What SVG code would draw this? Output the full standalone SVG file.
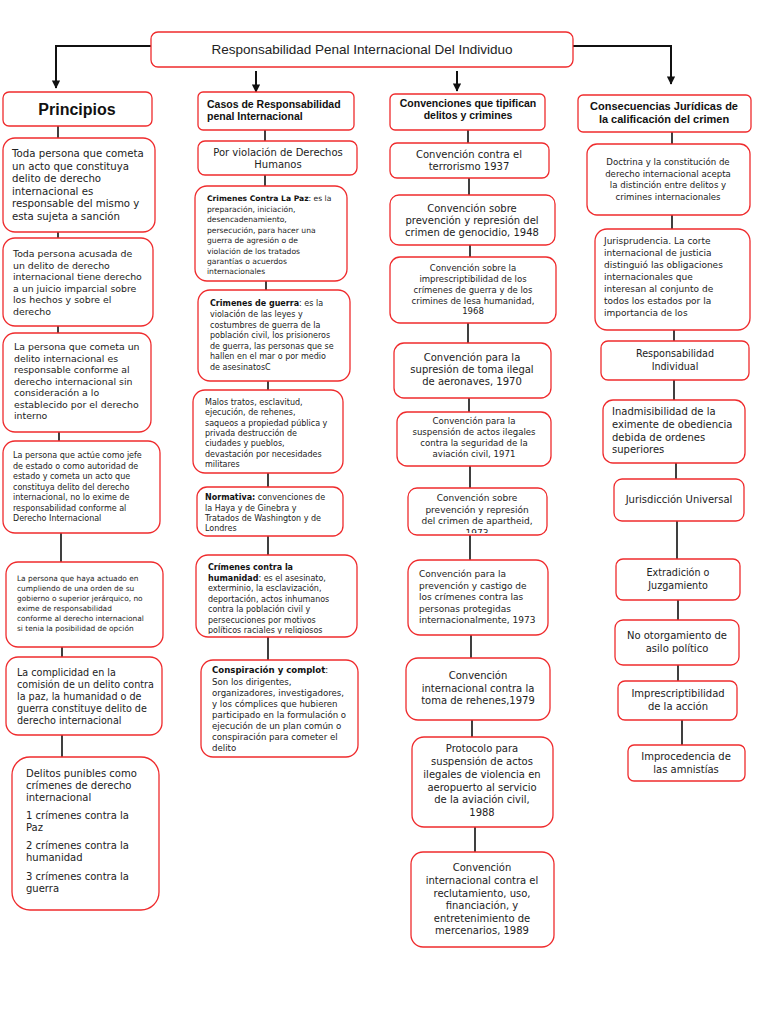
<svg xmlns="http://www.w3.org/2000/svg" width="768" height="1024" viewBox="0 0 768 1024">
<style>
.b{fill:#fff;stroke:#ef2b2d;stroke-width:1.3}
.c{stroke:#111;stroke-width:1.6;fill:none}
.ca{stroke:#111;stroke-width:2;fill:none}
text{font-family:"DejaVu Sans","Liberation Sans",sans-serif;fill:#222}
.m{text-anchor:middle}
.h{font-family:"Liberation Sans","Open Sans",sans-serif;font-weight:bold;fill:#111}
.bb{font-weight:bold;fill:#111}
</style>
<defs>
<marker id="ar" viewBox="0 0 10 10" refX="9" refY="5" markerWidth="4.2" markerHeight="4.2" orient="auto"><path d="M0,0 L10,5 L0,10 z" fill="#111"/></marker>
<clipPath id="k1"><rect x="196" y="555" width="161" height="79"/></clipPath>
<clipPath id="k2"><rect x="408" y="488" width="139" height="45"/></clipPath>
</defs>

<g id="connectors">
<path class="ca" d="M151,46 H56 V88" marker-end="url(#ar)"/>
<path class="ca" d="M573,46 H671 V84" marker-end="url(#ar)"/>
<path class="ca" d="M256,71 V92" marker-end="url(#ar)"/>
<path class="ca" d="M457,71 V91" marker-end="url(#ar)"/>
<path class="c" d="M58,126 V138 M58,232 V238 M58,326 V333 M59,432 V441 M61,533 V562 M62,647 V657 M62,735 V757"/>
<path class="c" d="M265,130 V141 M265,175 V186 M266,281 V290 M268,381 V390 M268,473 V487 M268,536 V555 M268,637 V660"/>
<path class="c" d="M468,130 V143 M469,178 V195 M470,245 V257 M468,323 V343 M469,398 V412 M470,466 V488 M470,535 V560 M471,635 V658 M472,720 V737 M475,827 V852"/>
<path class="c" d="M672,132 V144 M672,215 V229 M674,330 V341 M674,380 V400 M676,463 V479 M677,521 V559 M678,600 V620 M678,665 V681 M682,720 V745"/>
</g>

<g id="title"><rect class="b" x="151" y="32" width="422" height="35" rx="7"/>
<text class="m" x="362" y="54" style="font-family:'Liberation Sans',sans-serif;font-size:13.5px">Responsabilidad Penal Internacional Del Individuo</text></g>

<!-- Column 1 -->
<g id="principios"><rect class="b" x="3" y="92" width="149" height="34" rx="6"/>
<text class="m h" x="77" y="115" style="font-size:16px">Principios</text></g>

<g id="p1"><rect class="b" x="3" y="138" width="152" height="94" rx="12"/>
<text style="font-size:10.2px"><tspan x="12" y="157">Toda persona que cometa</tspan><tspan x="12" y="169.5">un acto que constituya</tspan><tspan x="12" y="182">delito de derecho</tspan><tspan x="12" y="194.5">internacional es</tspan><tspan x="12" y="207">responsable del mismo y</tspan><tspan x="12" y="219.5">esta sujeta a sanción</tspan></text></g>

<g id="p2"><rect class="b" x="3" y="238" width="150" height="88" rx="12"/>
<text style="font-size:9.4px"><tspan x="13" y="257">Toda persona acusada de</tspan><tspan x="13" y="268.5">un delito de derecho</tspan><tspan x="13" y="280">internacional tiene derecho</tspan><tspan x="13" y="291.5">a un juicio imparcial sobre</tspan><tspan x="13" y="303">los hechos y sobre el</tspan><tspan x="13" y="314.5">derecho</tspan></text></g>

<g id="p3"><rect class="b" x="3" y="333" width="148" height="99" rx="12"/>
<text style="font-size:9.4px"><tspan x="14" y="350">La persona que cometa un</tspan><tspan x="14" y="361.5">delito internacional es</tspan><tspan x="14" y="373">responsable conforme al</tspan><tspan x="14" y="384.5">derecho internacional sin</tspan><tspan x="14" y="396">consideración a lo</tspan><tspan x="14" y="407.5">establecido por el derecho</tspan><tspan x="14" y="419">interno</tspan></text></g>

<g id="p4"><rect class="b" x="3" y="441" width="157" height="92" rx="12"/>
<text style="font-size:8px"><tspan x="13" y="458">La persona que actúe como jefe</tspan><tspan x="13" y="468.5">de estado o como autoridad de</tspan><tspan x="13" y="479">estado y cometa un acto que</tspan><tspan x="13" y="489.5">constituya delito del derecho</tspan><tspan x="13" y="500">internacional, no lo exime de</tspan><tspan x="13" y="510.5">responsabilidad conforme al</tspan><tspan x="13" y="521">Derecho Internacional</tspan></text></g>

<g id="p5"><rect class="b" x="6" y="562" width="157" height="85" rx="12"/>
<text style="font-size:7.4px"><tspan x="17" y="581">La persona que haya actuado en</tspan><tspan x="17" y="591">cumpliendo de una orden de su</tspan><tspan x="17" y="601">gobierno o superior jerárquico, no</tspan><tspan x="17" y="611">exime de responsabilidad</tspan><tspan x="17" y="621">conforme al derecho internacional</tspan><tspan x="17" y="631">si tenia la posibilidad de opción</tspan></text></g>

<g id="p6"><rect class="b" x="6" y="657" width="156" height="78" rx="12"/>
<text style="font-size:9.6px"><tspan x="17" y="676">La complicidad en la</tspan><tspan x="17" y="688">comisión de un delito contra</tspan><tspan x="17" y="700">la paz, la humanidad o de</tspan><tspan x="17" y="712">guerra constituye delito de</tspan><tspan x="17" y="724">derecho internacional</tspan></text></g>

<g id="p7"><rect class="b" x="12" y="757" width="147" height="153" rx="18"/>
<text style="font-size:10px"><tspan x="26" y="777">Delitos punibles como</tspan><tspan x="26" y="789">crímenes de derecho</tspan><tspan x="26" y="801">internacional</tspan><tspan x="26" y="819">1 crímenes contra la</tspan><tspan x="26" y="831">Paz</tspan><tspan x="26" y="849">2 crímenes contra la</tspan><tspan x="26" y="861">humanidad</tspan><tspan x="26" y="880">3 crímenes contra la</tspan><tspan x="26" y="892">guerra</tspan></text></g>

<!-- Column 2 -->
<g id="casos"><rect class="b" x="198" y="92" width="156" height="38" rx="5"/>
<text class="h" style="font-size:10.5px"><tspan x="207" y="108">Casos de Responsabilidad</tspan><tspan x="207" y="120">penal Internacional</tspan></text></g>

<g id="c1"><rect class="b" x="198" y="141" width="159" height="34" rx="7"/>
<text class="m" style="font-size:10px"><tspan x="278" y="156">Por violación de Derechos</tspan><tspan x="278" y="168">Humanos</tspan></text></g>

<g id="c2"><rect class="b" x="195" y="186" width="152" height="95" rx="12"/>
<text style="font-size:7.6px"><tspan x="207" y="201"><tspan class="bb">Crimenes Contra La Paz</tspan>: es la</tspan><tspan x="207" y="211.5">preparación, iniciación,</tspan><tspan x="207" y="222">desencadenamiento,</tspan><tspan x="207" y="232.5">persecución, para hacer una</tspan><tspan x="207" y="243">guerra de agresión o de</tspan><tspan x="207" y="253.5">violación de los tratados</tspan><tspan x="207" y="264">garantías o acuerdos</tspan><tspan x="207" y="274">internacionales</tspan></text></g>

<g id="c3"><rect class="b" x="198" y="290" width="152" height="91" rx="12"/>
<text style="font-size:8px"><tspan x="210" y="306"><tspan class="bb">Crimenes de guerra</tspan>: es la</tspan><tspan x="210" y="317">violación de las leyes y</tspan><tspan x="210" y="327.5">costumbres de guerra de la</tspan><tspan x="210" y="338">población civil, los prisioneros</tspan><tspan x="210" y="348.5">de guerra, las personas que se</tspan><tspan x="210" y="359">hallen en el mar o por medio</tspan><tspan x="210" y="369.5">de asesinatosC</tspan></text></g>

<g id="c4"><rect class="b" x="193" y="390" width="150" height="83" rx="12"/>
<text style="font-size:8px"><tspan x="205" y="405"> Malos tratos, esclavitud,</tspan><tspan x="205" y="415.3">ejecución, de rehenes,</tspan><tspan x="205" y="425.6">saqueos a propiedad pública y</tspan><tspan x="205" y="435.9">privada destrucción de</tspan><tspan x="205" y="446.2">ciudades y pueblos,</tspan><tspan x="205" y="456.5">devastación por necesidades</tspan><tspan x="205" y="466.8">militares</tspan></text></g>

<g id="c5"><rect class="b" x="197" y="487" width="146" height="49" rx="10"/>
<text style="font-size:8px"><tspan x="205" y="500"><tspan class="bb">Normativa:</tspan> convenciones de</tspan><tspan x="205" y="510.5">la Haya y de Ginebra y</tspan><tspan x="205" y="521">Tratados de Washington y de</tspan><tspan x="205" y="531">Londres</tspan></text></g>

<g id="c6"><rect class="b" x="196" y="555" width="161" height="82" rx="12"/>
<text clip-path="url(#k1)" style="font-size:8px"><tspan x="208" y="570" class="bb">Crímenes contra la</tspan><tspan x="208" y="580.5"><tspan class="bb">humanidad</tspan>: es el asesinato,</tspan><tspan x="208" y="591">exterminio, la esclavización,</tspan><tspan x="208" y="601.5">deportación, actos inhumanos</tspan><tspan x="208" y="612">contra la población civil y</tspan><tspan x="208" y="622.5">persecuciones por motivos</tspan><tspan x="208" y="633">políticos raciales y religiosos</tspan></text></g>

<g id="c7"><rect class="b" x="201" y="660" width="157" height="97" rx="12"/>
<text style="font-size:8.6px"><tspan x="212" y="673"><tspan class="bb">Conspiración y complot</tspan>:</tspan><tspan x="212" y="684.5">Son los dirigentes,</tspan><tspan x="212" y="696">organizadores, investigadores,</tspan><tspan x="212" y="707">y los cómplices que hubieren</tspan><tspan x="212" y="718">participado en la formulación o</tspan><tspan x="212" y="729">ejecución de un plan común o</tspan><tspan x="212" y="740">conspiración para cometer el</tspan><tspan x="212" y="751">delito</tspan></text></g>

<!-- Column 3 -->
<g id="conv"><rect class="b" x="390" y="94" width="155" height="36" rx="5"/>
<text class="m h" style="font-size:10.5px"><tspan x="468" y="107">Convenciones que tipifican</tspan><tspan x="468" y="119">delitos y crimines</tspan></text></g>

<g id="v1"><rect class="b" x="390" y="143" width="159" height="35" rx="7"/>
<text class="m" style="font-size:10px"><tspan x="469" y="158">Convención contra el</tspan><tspan x="469" y="170">terrorismo 1937</tspan></text></g>

<g id="v2"><rect class="b" x="390" y="195" width="165" height="50" rx="9"/>
<text class="m" style="font-size:10px"><tspan x="472" y="212">Convención sobre</tspan><tspan x="472" y="224">prevención y represión del</tspan><tspan x="472" y="236">crimen de genocidio, 1948</tspan></text></g>

<g id="v3"><rect class="b" x="390" y="257" width="166" height="66" rx="10"/>
<text class="m" style="font-size:8.5px"><tspan x="473" y="271">Convención sobre la</tspan><tspan x="473" y="282">imprescriptibilidad de los</tspan><tspan x="473" y="293">crímenes de guerra y de los</tspan><tspan x="473" y="303.5">crimines de lesa humanidad,</tspan><tspan x="473" y="314">1968</tspan></text></g>

<g id="v4"><rect class="b" x="394" y="343" width="157" height="55" rx="10"/>
<text class="m" style="font-size:10px"><tspan x="472" y="361">Convención para la</tspan><tspan x="472" y="373">supresión de toma ilegal</tspan><tspan x="472" y="385">de aeronaves, 1970</tspan></text></g>

<g id="v5"><rect class="b" x="397" y="412" width="154" height="54" rx="10"/>
<text class="m" style="font-size:8.6px"><tspan x="474" y="424">Convención para la</tspan><tspan x="474" y="435">suspensión de actos ilegales</tspan><tspan x="474" y="446">contra la seguridad de la</tspan><tspan x="474" y="457">aviación civil, 1971</tspan></text></g>

<g id="v6"><rect class="b" x="408" y="488" width="139" height="47" rx="9"/>
<text class="m" clip-path="url(#k2)" style="font-size:9px"><tspan x="477" y="501">Convención sobre</tspan><tspan x="477" y="512.5">prevención y represión</tspan><tspan x="477" y="524">del crimen de apartheid,</tspan><tspan x="477" y="535.5">1973</tspan></text></g>

<g id="v7"><rect class="b" x="408" y="560" width="140" height="75" rx="12"/>
<text style="font-size:9px"><tspan x="419" y="577">Convención para la</tspan><tspan x="419" y="588.5">prevención y castigo de</tspan><tspan x="419" y="600">los crímenes contra las</tspan><tspan x="419" y="611.5">personas protegidas</tspan><tspan x="419" y="623">internacionalmente, 1973</tspan></text></g>

<g id="v8"><rect class="b" x="406" y="658" width="144" height="62" rx="12"/>
<text class="m" style="font-size:10px"><tspan x="478" y="679">Convención</tspan><tspan x="478" y="691.5">internacional contra la</tspan><tspan x="478" y="704">toma de rehenes,1979</tspan></text></g>

<g id="v9"><rect class="b" x="412" y="737" width="141" height="90" rx="12"/>
<text class="m" style="font-size:10px"><tspan x="482" y="752">Protocolo para</tspan><tspan x="482" y="765">suspensión de actos</tspan><tspan x="482" y="778">ilegales de violencia en</tspan><tspan x="482" y="790.5">aeropuerto al servicio</tspan><tspan x="482" y="803">de la aviación civil,</tspan><tspan x="482" y="815.5">1988</tspan></text></g>

<g id="v10"><rect class="b" x="411" y="852" width="143" height="95" rx="12"/>
<text class="m" style="font-size:10px"><tspan x="482" y="871">Convención</tspan><tspan x="482" y="884">internacional contra el</tspan><tspan x="482" y="896.5">reclutamiento, uso,</tspan><tspan x="482" y="909">financiación, y</tspan><tspan x="482" y="921.5">entretenimiento de</tspan><tspan x="482" y="934">mercenarios, 1989</tspan></text></g>

<!-- Column 4 -->
<g id="conse"><rect class="b" x="578" y="95" width="173" height="37" rx="5"/>
<text class="m h" style="font-size:11px"><tspan x="664" y="110">Consecuencias Jurídicas de</tspan><tspan x="664" y="123">la calificación del crimen</tspan></text></g>

<g id="k1b"><rect class="b" x="587" y="144" width="163" height="71" rx="10"/>
<text class="m" style="font-size:8.6px"><tspan x="668" y="165">Doctrina y la constitución de</tspan><tspan x="668" y="176.5">derecho internacional acepta</tspan><tspan x="668" y="188">la distinción entre delitos y</tspan><tspan x="668" y="199.5">crimines internacionales</tspan></text></g>

<g id="k2b"><rect class="b" x="595" y="229" width="155" height="101" rx="12"/>
<text style="font-size:9px"><tspan x="604" y="244">Jurisprudencia. La corte</tspan><tspan x="604" y="256">internacional de justicia</tspan><tspan x="604" y="268">distinguió las obligaciones</tspan><tspan x="604" y="280">internacionales que</tspan><tspan x="604" y="292">interesan al conjunto de</tspan><tspan x="604" y="304">todos los estados por la</tspan><tspan x="604" y="316">importancia de los</tspan></text></g>

<g id="k3b"><rect class="b" x="601" y="341" width="148" height="39" rx="7"/>
<text class="m" style="font-size:9.6px"><tspan x="675" y="357">Responsabilidad</tspan><tspan x="675" y="370">Individual</tspan></text></g>

<g id="k4b"><rect class="b" x="603" y="400" width="142" height="63" rx="10"/>
<text style="font-size:10px"><tspan x="612" y="415">Inadmisibilidad de la</tspan><tspan x="612" y="428">eximente de obediencia</tspan><tspan x="612" y="440.5">debida de ordenes</tspan><tspan x="612" y="453">superiores</tspan></text></g>

<g id="k5b"><rect class="b" x="614" y="479" width="130" height="42" rx="8"/>
<text class="m" style="font-size:10px" x="679" y="503">Jurisdicción Universal</text></g>

<g id="k6b"><rect class="b" x="616" y="559" width="124" height="41" rx="7"/>
<text class="m" style="font-size:9.6px"><tspan x="678" y="576">Extradición o</tspan><tspan x="678" y="589">Juzgamiento</tspan></text></g>

<g id="k7b"><rect class="b" x="615" y="620" width="124" height="45" rx="8"/>
<text class="m" style="font-size:10px"><tspan x="677" y="639">No otorgamiento de</tspan><tspan x="677" y="652">asilo político</tspan></text></g>

<g id="k8b"><rect class="b" x="618" y="681" width="119" height="39" rx="7"/>
<text class="m" style="font-size:10px"><tspan x="678" y="697">Imprescriptibilidad</tspan><tspan x="678" y="710">de la acción</tspan></text></g>

<g id="k9b"><rect class="b" x="628" y="745" width="117" height="36" rx="6"/>
<text class="m" style="font-size:10px"><tspan x="686" y="760">Improcedencia de</tspan><tspan x="686" y="773">las amnistías</tspan></text></g>
</svg>
